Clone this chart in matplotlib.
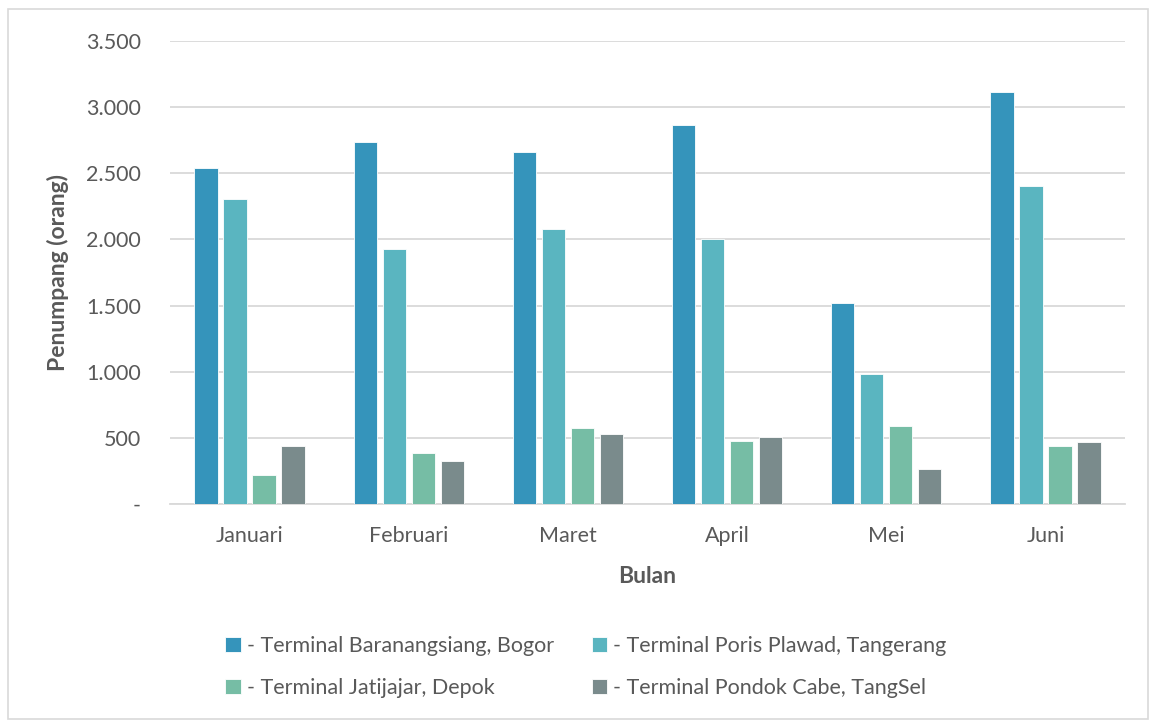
import numpy as np
from matplotlib import pyplot as plt
from matplotlib.ticker import FuncFormatter

# data
bulan = ['Januari', 'Februari', 'Maret', 'April', 'Mei', 'Juni']
bogor = [2543, 2739, 2663, 2862, 1520, 3116]
tangerang = [2309, 1925, 2080, 2000, 982, 2407]
depok = [216, 384, 575, 477, 588, 435]
tangsel = [435, 327, 528, 510, 264, 467]

series_names = ['- Terminal Baranangsiang, Bogor',
                '- Terminal Poris Plawad, Tangerang',
                '- Terminal Jatijajar, Depok',
                '- Terminal Pondok Cabe, TangSel']
colors = ['#3594BB', '#5AB5C0', '#76BDA5', '#7A8B8C']

plt.rcParams['font.family'] = ['Lato', 'DejaVu Sans']
text_color = '#595959'

fig = plt.figure(figsize=(11.49, 7.2), dpi=100)
ax = fig.add_axes([170 / 1149, 1 - 504 / 720, 955 / 1149, 463 / 720])

x = np.arange(len(bulan))
pitch = 0.182
width = 0.147
bars = []
for i, (vals, name, color) in enumerate(zip([bogor, tangerang, depok, tangsel],
                                             series_names, colors)):
    bars.append(ax.bar(x + (i - 1.5) * pitch, vals, width, color=color,
                       label=name, edgecolor='white', linewidth=0.6, zorder=3))

ax.set_xlim(-0.5, len(bulan) - 0.5)
ax.set_ylim(0, 3500)
ax.set_yticks(np.arange(0, 3501, 500))
ax.yaxis.set_major_formatter(FuncFormatter(
    lambda v, _: '-' if v == 0 else '{:,.0f}'.format(v).replace(',', '.')))
ax.set_xticks(x)
ax.set_xticklabels(bulan)

ax.grid(axis='y', color='#D9D9D9', linewidth=1.3, zorder=0)
for side in ['top', 'right', 'left']:
    ax.spines[side].set_visible(False)
ax.spines['bottom'].set_color('#D9D9D9')
ax.spines['bottom'].set_linewidth(1.3)
ax.tick_params(axis='both', length=0, labelsize=15.5, colors=text_color)
ax.tick_params(axis='y', pad=21)
ax.tick_params(axis='x', pad=16)

ax.set_ylabel('Penumpang (orang)', fontsize=16.5, fontweight='bold',
              color=text_color, labelpad=12)
ax.set_xlabel('Bulan', fontsize=16.5, fontweight='bold', color=text_color,
              labelpad=14)

# legend is filled row by row in the reference
order = [0, 2, 1, 3]
fig.legend([bars[i] for i in order], [series_names[i] for i in order],
           loc='center', bbox_to_anchor=(586 / 1149, 1 - 667 / 720), ncol=2,
           frameon=False, fontsize=15.5, labelcolor=text_color,
           handlelength=0.7, handleheight=0.7, handletextpad=0.3,
           columnspacing=1.75, labelspacing=1.0)

# light border round the whole chart
fig.patches.append(plt.Rectangle((8 / 1149, 0.002), 1 - 9 / 1149, 0.985,
                                 transform=fig.transFigure, fill=False,
                                 edgecolor='#D9D9D9', linewidth=1.2))

fig.savefig('out.png', dpi=100)
